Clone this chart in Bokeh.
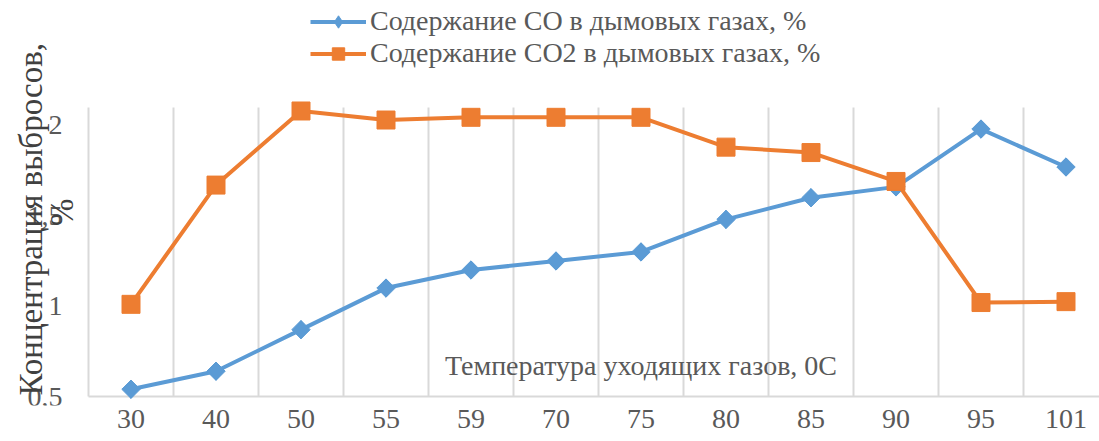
import math
from bokeh.plotting import figure
from bokeh.models import (Range1d, FixedTicker, Legend, LegendItem, Label)
from bokeh.core.properties import value
from bokeh.embed import file_html
from bokeh.resources import INLINE

categories = ["30", "40", "50", "55", "59", "70", "75", "80", "85", "90", "95", "101"]
co_values = [0.54, 0.64, 0.87, 1.10, 1.20, 1.25, 1.30, 1.48, 1.60, 1.66, 1.98, 1.77]
co2_values = [1.01, 1.67, 2.08, 2.03, 2.045, 2.045, 2.045, 1.88, 1.85, 1.69, 1.02, 1.025]
y_ticks = [0.5, 1.0, 1.5, 2.0]
y_tick_labels = ["0,5", "1", "1,5", "2"]
y_min, y_max = 0.5, 2.1

legend_co = "Содержание СО в дымовых газах, %"
legend_co2 = "Содержание СО2 в дымовых газах, %"
x_title = "Температура уходящих газов, 0С"
y_title_1 = "Концентрация выбросов,"
y_title_2 = "%"

FONT = "Liberation Serif"
BLUE = "#5B9BD5"
ORANGE = "#ED7D31"
GRID = "#D9D9D9"
TEXT = "#595959"
TITLE = "#404040"

xs = list(range(len(categories)))
boundaries = [i - 0.5 for i in range(len(categories))]

# frame covers the canvas above the x tick labels; 85 px per category, ~180.7 px per unit
FRAME_H = 405
PX_X, PX_Y = 85.0, 180.7
x_start = -0.5 - 88 / PX_X
y_start = y_min - (FRAME_H - 396) / PX_Y
p = figure(width=1099, height=441, output_backend="svg", toolbar_location=None,
           x_range=Range1d(x_start, x_start + 1099 / PX_X),
           y_range=Range1d(y_start, y_start + FRAME_H / PX_Y),
           y_axis_location=None,
           min_border_left=0, min_border_right=0, min_border_top=0,
           min_border_bottom=441 - FRAME_H)
p.outline_line_color = None
p.background_fill_color = "white"
p.border_fill_color = "white"
p.xgrid.grid_line_color = None
p.ygrid.grid_line_color = None

# x axis (tick labels only; the base line is drawn at y = y_min)
p.xaxis.ticker = FixedTicker(ticks=xs)
p.xaxis.major_label_overrides = {i: c for i, c in enumerate(categories)}
p.xaxis.axis_line_color = None
p.xaxis.major_tick_line_color = None
p.xaxis.minor_tick_line_color = None
p.xaxis.major_tick_out = 0
p.xaxis.minor_tick_out = 0
p.xaxis.major_label_text_font = FONT
p.xaxis.major_label_text_font_size = "28px"
p.xaxis.major_label_text_color = TEXT
p.xaxis.major_label_standoff = 4

# vertical grid lines between categories and the base line
p.segment(x0=boundaries, y0=[y_min] * len(boundaries), x1=boundaries,
          y1=[y_max] * len(boundaries), line_color=GRID, line_width=2)
p.segment(x0=[-0.5], y0=[y_min], x1=[len(categories) - 0.5], y1=[y_min],
          line_color=GRID, line_width=2)

# y tick labels
p.text(x=[-0.5 - 26 / PX_X] * len(y_ticks), y=y_ticks, text=y_tick_labels,
       text_align="right", text_baseline="middle", text_font=value(FONT),
       text_font_size="28px", text_color=TEXT)

# series
l1 = p.line(xs, co_values, line_color=BLUE, line_width=4)
s1 = p.scatter(xs, co_values, marker="square", angle=math.pi / 4, size=13,
               fill_color=BLUE, line_color=BLUE)
# diamond markers (fit inside the rotated squares) used for the legend entry
d1 = p.scatter(xs, co_values, marker="diamond", size=18,
               fill_color=BLUE, line_color=BLUE)
l2 = p.line(xs, co2_values, line_color=ORANGE, line_width=4)
s2 = p.scatter(xs, co2_values, marker="square", size=18,
               fill_color=ORANGE, line_color=ORANGE)

legend = Legend(items=[LegendItem(label=legend_co, renderers=[l1, d1]),
                       LegendItem(label=legend_co2, renderers=[l2, s2])],
                location=(310, FRAME_H - 69), orientation="vertical",
                label_text_font=FONT, label_text_font_size="28px",
                label_text_color=TEXT, glyph_width=56, glyph_height=31,
                label_height=31, spacing=0, padding=0, margin=0,
                label_standoff=4, border_line_color=None,
                background_fill_alpha=0)
p.add_layout(legend, "center")

# x title inside plot
p.add_layout(Label(x=6, y=0.672, text=x_title, text_align="center",
                   text_baseline="middle", text_font=FONT,
                   text_font_size="28px", text_color=TEXT))

# y title, rotated, two lines
p.add_layout(Label(x=x_start + 30 / PX_X, y=0.505, text=y_title_1, angle=math.pi / 2,
                   text_align="left", text_baseline="middle", text_font=FONT,
                   text_font_size="33px", text_color=TITLE))
p.add_layout(Label(x=x_start + 61 / PX_X, y=1.52, text=y_title_2, angle=math.pi / 2,
                   text_align="center", text_baseline="middle", text_font=FONT,
                   text_font_size="33px", text_color=TITLE))

open("out.html", "w").write(file_html(p, INLINE))
